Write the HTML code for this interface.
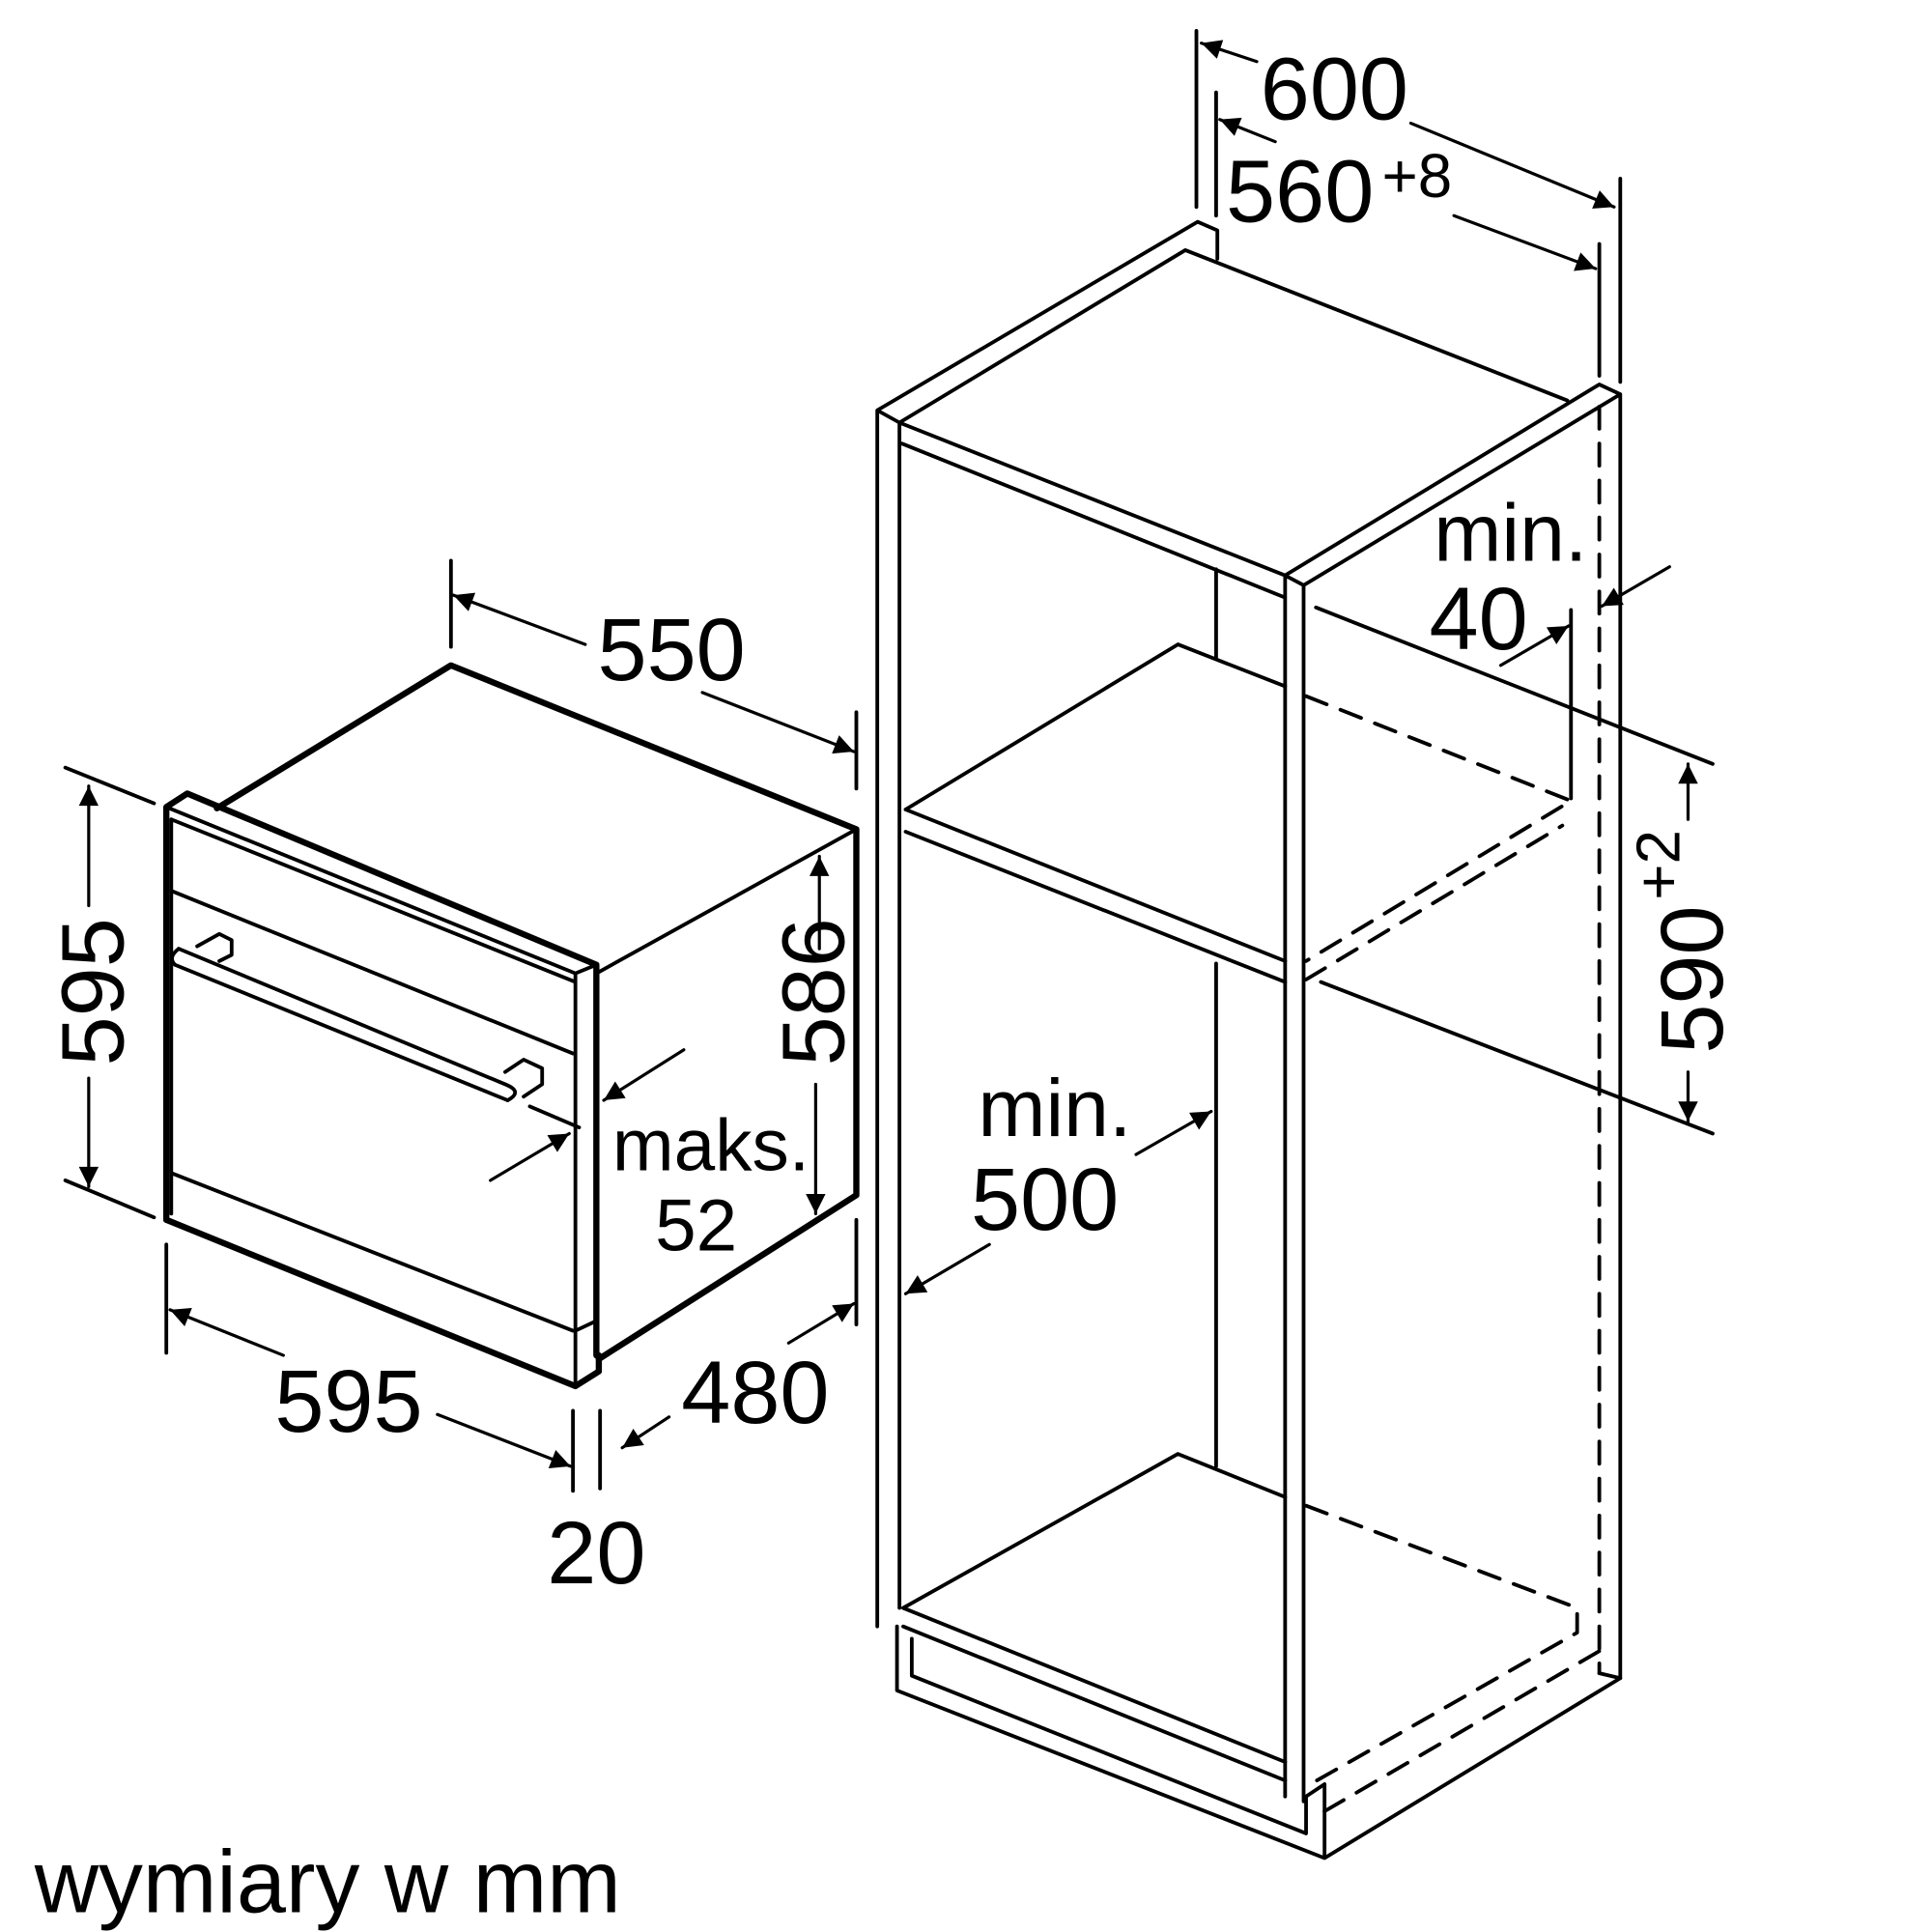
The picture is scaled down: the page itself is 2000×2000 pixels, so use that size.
<!DOCTYPE html>
<html><head><meta charset="utf-8"><style>html,body{margin:0;padding:0;background:#fff}svg{display:block}text{font-family:"Liberation Sans",sans-serif;fill:#000}</style></head><body>
<svg width="2000" height="2000" viewBox="0 0 1568 1568" xmlns="http://www.w3.org/2000/svg">
<defs>
<marker id="b" viewBox="0 0 10 10" refX="10" refY="5" markerWidth="26" markerHeight="16" markerUnits="userSpaceOnUse" orient="auto"><path d="M0,0 L10,5 L0,10z" fill="#000"/></marker></defs>
<g stroke="#000" stroke-width="3" fill="none" stroke-linecap="round" stroke-linejoin="round">
<!-- oven -->
<g stroke-width="5"><path d="M176,656 L366,540 L695,673 L695,970 L486,1103"/><path d="M135,990 L467,1125 L486,1113 L486,1100"/><path d="M135,990 L135,655 L152,644 L484,783 L484,1100"/></g>
<path d="M135,655 L467,790 L484,783 M467,790 L467,1125 M139,665 L139,985 M139,723 L465,855 M139,952 L465,1080 M467,1080 L484,1072 M484,790 L695,673 M139,665 L467,797"/>
<path d="M145,770 L410,880 M142,783 L412,893 M145,770 Q136,777 142,783 M412,893 Q425,886 410,880 M160,768 L178,758 L188,763 L188,775 L178,780 M410,870 L425,860 L440,867 L440,880 L425,890"/>
<!-- oven dims -->
<path d="M366,455 L366,525 M695,578 L695,640 M53,623 L125,652 M53,958 L125,988 M135,1010 L135,1098 M465,1145 L465,1210 M487,1145 L487,1208 M695,990 L695,1075 M430,898 L470,915"/>
<g stroke-width="2.5"><path d="M475,523 L368,483" marker-end="url(#b)"/><path d="M570,562 L693,610" marker-end="url(#b)"/>
<path d="M72,735 L72,638" marker-end="url(#b)"/><path d="M72,875 L72,963" marker-end="url(#b)"/>
<path d="M665,770 L665,695" marker-end="url(#b)"/><path d="M662,880 L662,985" marker-end="url(#b)"/>
<path d="M230,1100 L138,1063" marker-end="url(#b)"/><path d="M355,1148 L463,1190" marker-end="url(#b)"/>
<path d="M640,1090 L693,1058" marker-end="url(#b)"/><path d="M543,1150 L505,1175" marker-end="url(#b)"/>
<path d="M555,852 L490,893" marker-end="url(#b)"/><path d="M398,958 L462,920" marker-end="url(#b)"/></g>
<!-- cabinet -->
<path d="M712,1320 L712,333 L972,180 L988,187 L988,210 M730,1305 L730,343 L962,203 L1272,325 M712,333 L730,343 M730,343 L1043,467 L1298,312 L1315,320 L1058,475 L1043,467 M732,360 L1043,485 M1043,467 L1043,1458 M1058,475 L1058,1462 M1315,320 L1315,1362 M987,462 L987,535 M987,782 L987,1190"/>
<path d="M735,657 L956,523 L1043,557 M735,657 L1043,780 M735,675 L1043,797 M1068,493 L1390,620 M1072,797 L1390,920"/>
<path d="M733,1305 L956,1180 L1043,1215 M733,1305 L1043,1430 M733,1320 L1043,1445 M728,1320 L728,1372 L1075,1508 L1315,1362 M740,1330 L740,1360 L1060,1488 L1060,1458 L1075,1448 L1075,1508 M1298,1358 L1315,1362"/>
<g stroke-dasharray="18,12"><path d="M1060,565 L1275,650 L1060,780 M1060,795 L1268,670 M1060,1222 L1280,1305 L1280,1325 L1060,1450 M1075,1470 L1298,1340 M1298,330 L1298,1358"/></g>
<!-- cabinet dims -->
<path d="M971,25 L971,168 M1315,145 L1315,310 M987,75 L987,175 M1298,198 L1298,305 M1275,495 L1275,648"/>
<g stroke-width="2.5"><path d="M1020,50 L975,35" marker-end="url(#b)"/><path d="M1145,100 L1310,168" marker-end="url(#b)"/>
<path d="M1035,115 L990,97" marker-end="url(#b)"/><path d="M1180,175 L1295,218" marker-end="url(#b)"/>
<path d="M1218,540 L1273,508" marker-end="url(#b)"/><path d="M1355,460 L1300,492" marker-end="url(#b)"/>
<path d="M1370,665 L1370,620" marker-end="url(#b)"/><path d="M1370,870 L1370,910" marker-end="url(#b)"/>
<path d="M922,937 L983,902" marker-end="url(#b)"/><path d="M803,1010 L735,1050" marker-end="url(#b)"/></g>
</g>
<g font-size="72" text-anchor="middle">
<text x="545" y="552">550</text>
<text transform="translate(100,805) rotate(-90)">595</text>
<text transform="translate(685,805) rotate(-90)">586</text>
<text x="283" y="1162">595</text>
<text x="613" y="1155">480</text>
<text x="484" y="1285">20</text>
<text x="1083" y="97">600</text>
<text x="1055" y="180">560</text>
<text transform="translate(1398,795) rotate(-90)">590</text>
<text x="848" y="998">500</text>
<text x="1200" y="527">40</text>
</g>
<g font-size="66" text-anchor="middle">
<text x="856" y="922">min.</text>
<text x="1226" y="455">min.</text>
</g>
<g font-size="60" text-anchor="middle">
<text x="577" y="950">maks.</text>
<text x="565" y="1015">52</text>
</g>
<text x="1150" y="160" font-size="50" text-anchor="middle">+8</text>
<text transform="translate(1363,702) rotate(-90)" font-size="50" text-anchor="middle">+2</text>
<text x="28" y="1552" font-size="72">wymiary w mm</text>
</svg>
</body></html>
